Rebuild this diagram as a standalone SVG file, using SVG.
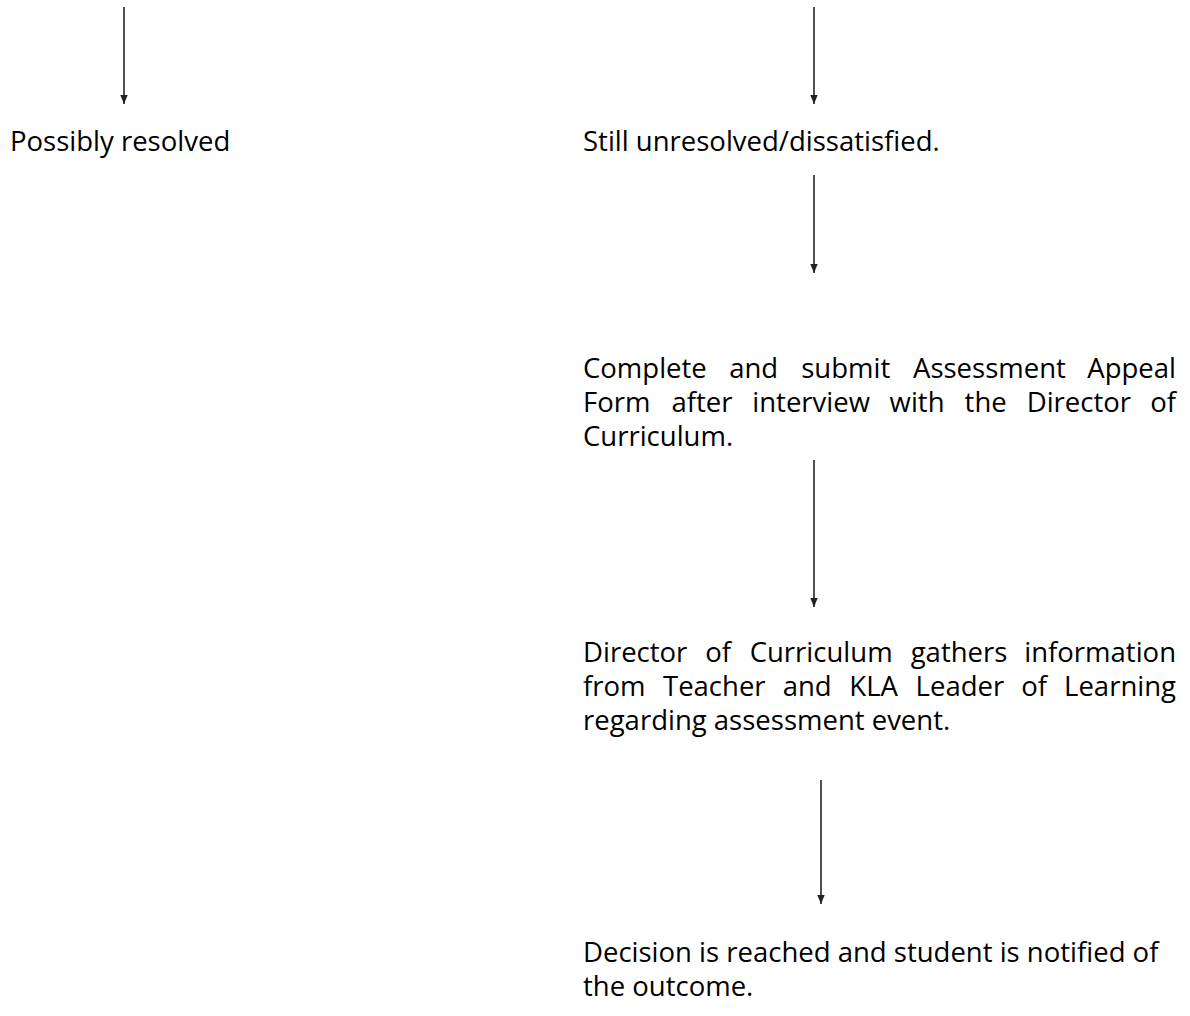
<svg xmlns="http://www.w3.org/2000/svg" width="1190" height="1016" viewBox="0 0 1190 1016">
<defs>
<marker id="ah" markerWidth="9" markerHeight="8" refX="9" refY="4" orient="auto" markerUnits="userSpaceOnUse" viewBox="0 0 9 8">
<path d="M0,0.3 L9,4 L0,7.7 Z" fill="#222"/>
</marker>
<style>
.t{font-family:"Open Sans","Noto Sans","Liberation Sans",sans-serif;font-size:27.5px;fill:#000}
.c{stroke:#333;stroke-width:1.7;fill:none;marker-end:url(#ah)}
</style>
</defs>
<rect width="1190" height="1016" fill="#fff"/>
<g id="connectors">
<line class="c" x1="124" y1="7" x2="124" y2="104"/>
<line class="c" x1="814" y1="7" x2="814" y2="104"/>
<line class="c" x1="814" y1="175" x2="814" y2="273"/>
<line class="c" x1="814" y1="460" x2="814" y2="607"/>
<line class="c" x1="821" y1="780" x2="821" y2="904"/>
</g>
<g id="n1"><text class="t" x="10" y="151">Possibly resolved</text></g>
<g id="n2"><text class="t" x="583" y="151">Still unresolved/dissatisfied.</text></g>
<g id="n3">
<text class="t" y="378"><tspan x="583">Complete</tspan><tspan x="729.2">and</tspan><tspan x="801.2">submit</tspan><tspan x="913">Assessment</tspan><tspan x="1176" text-anchor="end">Appeal</tspan></text>
<text class="t" y="412"><tspan x="583">Form</tspan><tspan x="671.5">after</tspan><tspan x="752.3">interview</tspan><tspan x="889.6">with</tspan><tspan x="964.6">the</tspan><tspan x="1026.7">Director</tspan><tspan x="1176" text-anchor="end">of</tspan></text>
<text class="t" x="583" y="446">Curriculum.</text>
</g>
<g id="n4">
<text class="t" y="662"><tspan x="583">Director</tspan><tspan x="705.3">of</tspan><tspan x="749.7">Curriculum</tspan><tspan x="910.7">gathers</tspan><tspan x="1176" text-anchor="end">information</tspan></text>
<text class="t" y="696"><tspan x="583">from</tspan><tspan x="663">Teacher</tspan><tspan x="782.7">and</tspan><tspan x="849.3">KLA</tspan><tspan x="915.6">Leader</tspan><tspan x="1021.3">of</tspan><tspan x="1176" text-anchor="end">Learning</tspan></text>
<text class="t" x="583" y="730">regarding assessment event.</text>
</g>
<g id="n5">
<text class="t" x="583" y="962">Decision is reached and student is notified of</text>
<text class="t" x="583" y="996">the outcome.</text>
</g>
</svg>
